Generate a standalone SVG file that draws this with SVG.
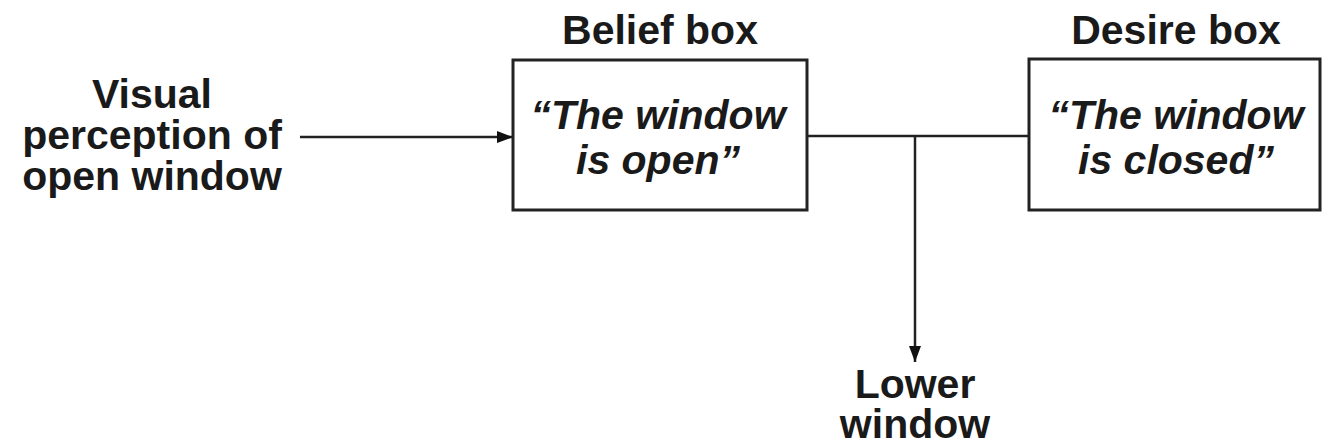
<svg xmlns="http://www.w3.org/2000/svg" width="1328" height="445" viewBox="0 0 1328 445">
<defs>
<style>
.t{font-family:"Liberation Sans",Arial,Helvetica,sans-serif;font-weight:bold;font-size:41px;fill:#1a1a1a;text-anchor:middle}
.i{font-style:italic}
.box{fill:#fff;stroke:#222;stroke-width:3}
.ln{fill:none;stroke:#222;stroke-width:2.5}
</style>
<marker id="ah" viewBox="0 0 16 12" refX="16" refY="6" markerWidth="16" markerHeight="12" markerUnits="userSpaceOnUse" orient="auto">
<path d="M0,0 L16,6 L0,12 Z" fill="#111"/>
</marker>
</defs>
<rect width="1328" height="445" fill="#fff"/>
<g id="connectors">
<line class="ln" x1="300" y1="137" x2="513" y2="137" marker-end="url(#ah)"/>
<line class="ln" x1="807" y1="136" x2="1028" y2="136"/>
<line class="ln" x1="915" y1="136" x2="915" y2="362" marker-end="url(#ah)"/>
</g>
<g id="perception">
<text class="t" x="152" y="108">Visual</text>
<text class="t" x="152" y="149">perception of</text>
<text class="t" x="152" y="190">open window</text>
</g>
<g id="belief">
<text class="t" x="660" y="44">Belief box</text>
<rect class="box" x="513" y="60" width="294" height="150"/>
<text class="t i" x="658" y="129">“The window</text>
<text class="t i" x="658" y="174">is open”</text>
</g>
<g id="desire">
<text class="t" x="1176" y="44">Desire box</text>
<rect class="box" x="1029" y="59" width="291" height="151"/>
<text class="t i" x="1176" y="129">“The window</text>
<text class="t i" x="1176" y="174">is closed”</text>
</g>
<g id="lower">
<text class="t" x="915" y="398">Lower</text>
<text class="t" x="915" y="438">window</text>
</g>
</svg>
